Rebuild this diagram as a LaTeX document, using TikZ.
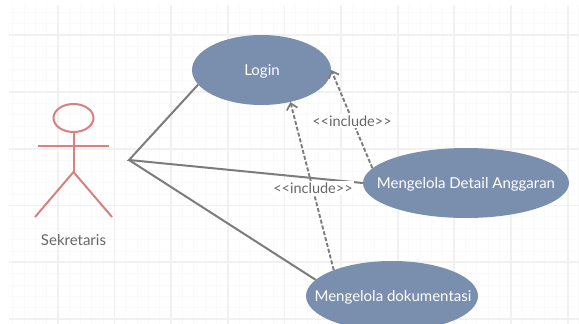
\documentclass[tikz,border=0pt]{standalone}
\usepackage{fontspec}
\setmainfont{Lato}
\usetikzlibrary{shapes.geometric,arrows.meta}
\definecolor{ucfill}{HTML}{7A8FAE}
\definecolor{actorc}{HTML}{D98080}
\definecolor{linec}{HTML}{7C7C7C}
\definecolor{textc}{HTML}{666666}
\definecolor{gridmin}{HTML}{FAFAFA}
\definecolor{gridmaj}{HTML}{F1F1F1}
\tikzset{
  usecase/.style={ellipse,fill=ucfill,draw=none,inner sep=0pt},
  uctext/.style={text=white,inner sep=0pt,font=\fontsize{15}{17}\selectfont},
  assoc/.style={draw=linec,line width=2pt},
  incl/.style={draw=linec,line width=1.9pt,dash pattern=on 4pt off 2pt,-{Straight Barb[length=6pt,width=11pt,line width=1.7pt]}},
  inclabel/.style={fill=white,inner sep=1.5pt,text=textc,font=\fontsize{14.5}{16}\selectfont},
  actorline/.style={draw=actorc,line width=2pt},
  actorlabel/.style={text=textc,font=\fontsize{15}{17}\selectfont},
}
\begin{document}
\begin{tikzpicture}[x=1pt,y=-1pt]
\useasboundingbox (0,0) rectangle (579,324);
\fill[white] (0,0) rectangle (579,324);
% grid
\foreach \i in {0,...,50}{
  \pgfmathsetmacro{\gx}{12.6+11.32*\i}
  \draw[gridmin,line width=0.8pt] (\gx,5) -- (\gx,324);
}
\foreach \i in {0,...,28}{
  \pgfmathsetmacro{\gy}{12.4+11.36*\i}
  \draw[gridmin,line width=0.8pt] (9,\gy) -- (579,\gy);
}
\foreach \gx in {58,114.5,171,228,284.5,341,398,454,511,568}{
  \draw[gridmaj,line width=1.1pt] (\gx,5) -- (\gx,324);
}
\foreach \gy in {35,92,149,205.5,262,319}{
  \draw[gridmaj,line width=1.1pt] (9,\gy) -- (579,\gy);
}
% actor
\node[draw=actorc,line width=2pt,ellipse,minimum width=40pt,minimum height=28pt,inner sep=0pt] (head) at (73.5,118) {};
\coordinate (hip) at (73.5,172);
\coordinate (armL) at (38,146);
\coordinate (armR) at (109,146);
\coordinate (legL) at (35,217);
\coordinate (legR) at (112,217);
\draw[actorline] (head.south) -- (hip);
\draw[actorline] (armL) -- (armR);
\draw[actorline] (legL) -- (hip) -- (legR);
\node[actorlabel] (sek) at (73.5,240) {Sekretaris};
% use cases
\node[usecase,minimum width=139pt,minimum height=70pt] (login) at (261.5,70) {};
\node[usecase,minimum width=206pt,minimum height=70pt] (detail) at (466,183) {};
\node[usecase,minimum width=172pt,minimum height=70pt] (doc) at (392,296) {};
\node[uctext] (loginlabel) at (262,71) {Login};
\node[uctext] (detaillabel) at (466,184) {Mengelola Detail Anggaran};
\node[uctext] (doclabel) at (393,297) {Mengelola dokumentasi};
% associations
\coordinate (hub) at (129,160);
\draw[assoc] (login.193.7) -- (hub) -- (detail.180);
\draw[assoc] (hub) -- (doc.168.3);
% includes
\draw[incl] (detail.171) -- (login.0);
\draw[incl] (doc.156.7) -- (login.-48.3);
\node[inclabel] (inc1) at (352,121) {<{}<include>{}>};
\node[inclabel] (inc2) at (313,188) {<{}<include>{}>};
\end{tikzpicture}
\end{document}
